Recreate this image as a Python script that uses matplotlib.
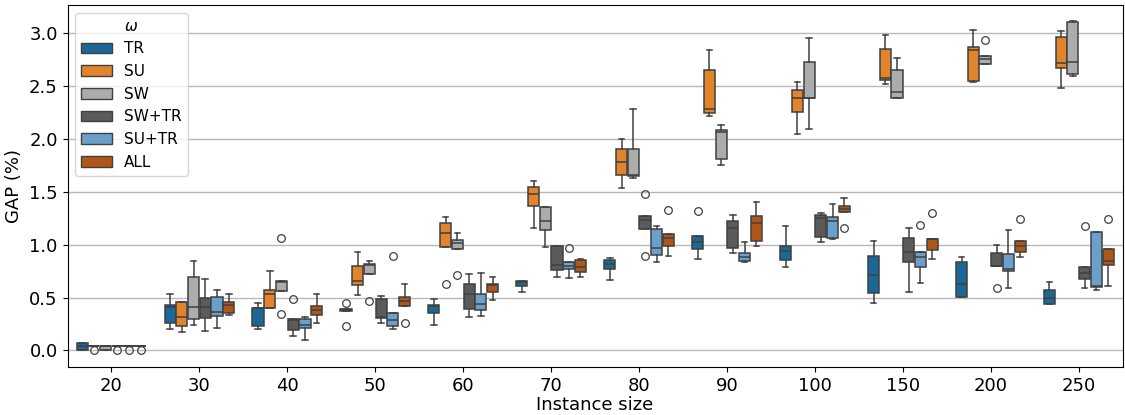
import matplotlib

matplotlib.use("Agg")
import matplotlib.pyplot as plt
from matplotlib.patches import Patch

# Instance sizes on the x axis and the six omega variants
sizes = ["20", "30", "40", "50", "60", "70", "80", "90", "100", "150", "200", "250"]
variants = ["TR", "SU", "SW", "SW+TR", "SU+TR", "ALL"]
colors = ["#1b6896", "#e1842c", "#acacac", "#5b5b5b", "#6b9fcc", "#b15619"]

# Box statistics (GAP %), one value per instance size
tr_q1 = [0.0, 0.263, 0.234, 0.377, 0.351, 0.605, 0.766, 0.959, 0.855, 0.541, 0.506, 0.437]
tr_med = [0.038, 0.41, 0.40, 0.385, 0.418, 0.643, 0.817, 1.023, 0.94, 0.709, 0.63, 0.50]
tr_q3 = [0.07, 0.427, 0.40, 0.396, 0.434, 0.658, 0.858, 1.08, 0.991, 0.89, 0.836, 0.576]
tr_lo = [0.0, 0.206, 0.20, 0.377, 0.237, 0.557, 0.665, 0.867, 0.791, 0.453, 0.506, 0.437]
tr_hi = [0.07, 0.53, 0.453, 0.396, 0.49, 0.658, 0.871, 1.08, 1.175, 1.035, 0.88, 0.646]
tr_out = [[], [], [], [0.453, 0.228], [], [], [], [1.32], [], [], [], []]

su_q1 = [0.038, 0.231, 0.40, 0.617, 0.975, 1.361, 1.662, 2.248, 2.251, 2.555, 2.551, 2.669]
su_med = [0.038, 0.32, 0.538, 0.652, 1.108, 1.481, 1.785, 2.28, 2.384, 2.58, 2.843, 2.713]
su_q3 = [0.038, 0.459, 0.567, 0.80, 1.203, 1.545, 1.909, 2.65, 2.466, 2.846, 2.868, 2.96]
su_lo = [0.038, 0.174, 0.40, 0.529, 0.975, 1.162, 1.535, 2.216, 2.051, 2.523, 2.541, 2.485]
su_hi = [0.038, 0.459, 0.75, 0.934, 1.266, 1.602, 1.997, 2.84, 2.539, 2.979, 3.029, 3.023]
su_out = [[0.0], [], [], [], [0.624], [], [], [], [], [], [], []]

sw_q1 = [0.0, 0.294, 0.563, 0.725, 0.959, 1.14, 1.652, 1.811, 2.39, 2.387, 2.71, 2.609]
sw_med = [0.038, 0.415, 0.649, 0.807, 1.013, 1.228, 1.66, 2.064, 2.39, 2.447, 2.751, 2.723]
sw_q3 = [0.038, 0.696, 0.658, 0.817, 1.045, 1.355, 1.906, 2.08, 2.723, 2.653, 2.783, 3.108]
sw_lo = [0.0, 0.244, 0.563, 0.725, 0.959, 0.981, 1.63, 1.75, 2.096, 2.387, 2.71, 2.593]
sw_hi = [0.038, 0.842, 0.658, 0.848, 1.108, 1.355, 2.279, 2.134, 2.953, 2.764, 2.783, 3.11]
sw_out = [[], [], [1.06, 0.342], [0.472], [0.715], [], [], [], [], [], [2.934], []]

swtr_q1 = [0.038, 0.31, 0.196, 0.31, 0.396, 0.76, 1.146, 0.966, 1.076, 0.833, 0.795, 0.677]
swtr_med = [0.038, 0.408, 0.29, 0.316, 0.532, 0.804, 1.235, 1.156, 1.25, 0.928, 0.80, 0.728]
swtr_q3 = [0.038, 0.50, 0.30, 0.491, 0.633, 0.991, 1.273, 1.228, 1.282, 1.067, 0.924, 0.785]
swtr_lo = [0.038, 0.18, 0.136, 0.256, 0.316, 0.696, 1.146, 0.918, 1.026, 0.548, 0.795, 0.595]
swtr_hi = [0.038, 0.671, 0.30, 0.516, 0.719, 0.991, 1.273, 1.285, 1.301, 1.162, 0.997, 0.785]
swtr_out = [[0.0], [], [0.487], [], [], [], [1.481, 0.896], [], [], [], [0.595], [1.174]]

sutr_q1 = [0.038, 0.33, 0.215, 0.228, 0.38, 0.769, 0.902, 0.845, 1.067, 0.785, 0.75, 0.601]
sutr_med = [0.038, 0.364, 0.24, 0.285, 0.443, 0.795, 0.972, 0.886, 1.225, 0.886, 0.772, 0.608]
sutr_q3 = [0.038, 0.51, 0.297, 0.358, 0.538, 0.839, 1.146, 0.921, 1.26, 0.934, 0.909, 1.124]
sutr_lo = [0.038, 0.215, 0.10, 0.206, 0.326, 0.687, 0.839, 0.836, 1.057, 0.636, 0.595, 0.57]
sutr_hi = [0.038, 0.57, 0.316, 0.358, 0.728, 0.839, 1.178, 1.029, 1.383, 0.934, 1.143, 1.124]
sutr_out = [[0.0], [], [], [0.896], [], [0.966], [], [], [], [1.187], [], []]

all_q1 = [0.038, 0.358, 0.339, 0.418, 0.548, 0.738, 0.991, 1.038, 1.307, 0.953, 0.934, 0.81]
all_med = [0.038, 0.434, 0.38, 0.465, 0.617, 0.785, 1.067, 1.203, 1.336, 1.05, 0.991, 0.845]
all_q3 = [0.038, 0.462, 0.418, 0.507, 0.633, 0.852, 1.10, 1.275, 1.364, 1.057, 1.038, 0.959]
all_lo = [0.038, 0.335, 0.26, 0.418, 0.478, 0.69, 0.896, 0.991, 1.307, 0.861, 0.88, 0.605]
all_hi = [0.038, 0.53, 0.535, 0.627, 0.693, 0.867, 1.10, 1.408, 1.446, 1.057, 1.038, 0.959]
all_out = [[0.0], [], [], [0.26], [], [], [1.327], [], [1.159], [1.304], [1.244], [1.241]]

stats_by_variant = [
    (tr_q1, tr_med, tr_q3, tr_lo, tr_hi, tr_out),
    (su_q1, su_med, su_q3, su_lo, su_hi, su_out),
    (sw_q1, sw_med, sw_q3, sw_lo, sw_hi, sw_out),
    (swtr_q1, swtr_med, swtr_q3, swtr_lo, swtr_hi, swtr_out),
    (sutr_q1, sutr_med, sutr_q3, sutr_lo, sutr_hi, sutr_out),
    (all_q1, all_med, all_q3, all_lo, all_hi, all_out),
]

line_col = "#404040"
fig, ax = plt.subplots(figsize=(11.25, 4.15), dpi=100)
fig.subplots_adjust(left=0.06, right=0.998, top=0.988, bottom=0.116)

n = len(variants)
step = 0.8 / n
width = step * 0.95
for j, (q1, med, q3, lo, hi, out) in enumerate(stats_by_variant):
    stats = [
        {"q1": q1[i], "med": med[i], "q3": q3[i], "whislo": lo[i],
         "whishi": hi[i], "fliers": out[i]}
        for i in range(len(sizes))
    ]
    pos = [i + (j - (n - 1) / 2) * step for i in range(len(sizes))]
    ax.bxp(
        stats, positions=pos, widths=width, patch_artist=True,
        manage_ticks=False, capwidths=width * 0.5,
        boxprops=dict(facecolor=colors[j], edgecolor=line_col, linewidth=1.1),
        medianprops=dict(color=line_col, linewidth=1.1),
        whiskerprops=dict(color=line_col, linewidth=1.1),
        capprops=dict(color=line_col, linewidth=1.1),
        flierprops=dict(marker="o", markerfacecolor="none",
                        markeredgecolor=line_col, markersize=5.5,
                        markeredgewidth=0.9),
    )

ax.set_xticks(range(len(sizes)))
ax.set_xticklabels(sizes)
ax.set_xlim(-0.5, len(sizes) - 0.5)
ax.set_ylim(-0.155, 3.266)
ax.tick_params(labelsize=13)
ax.set_xlabel("Instance size", fontsize=13, labelpad=1)
ax.set_ylabel("GAP (%)", fontsize=13)
ax.yaxis.grid(True, color="#b8b8b8", linewidth=1)
ax.set_axisbelow(True)

handles = [Patch(facecolor=c, edgecolor=line_col, label=v)
           for c, v in zip(colors, variants)]
ax.legend(handles=handles, title=r"$\omega$", loc="upper left",
          fontsize=11, title_fontsize=11)

fig.savefig("out.png", dpi=100)
